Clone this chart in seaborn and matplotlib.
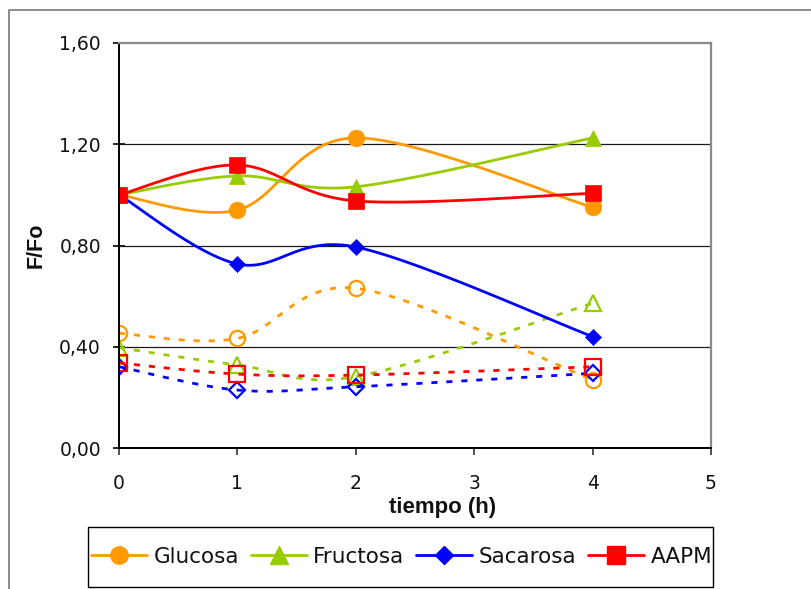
import numpy as np
import pandas as pd
import matplotlib
matplotlib.use("Agg")
import matplotlib.pyplot as plt
from matplotlib.lines import Line2D
from matplotlib.patches import Rectangle
from matplotlib.ticker import FuncFormatter
import seaborn as sns

# Sampling times (h)
tiempo = [0, 1, 2, 4]
series = ["Glucosa", "Fructosa", "Sacarosa", "AAPM"]
colores = ["#FF9900", "#99CC00", "#0000FF", "#FF0000"]
marcadores = ["o", "^", "D", "s"]

# F/Fo, solid series (filled markers)
glucosa = [1.00, 0.940, 1.225, 0.951]
fructosa = [1.00, 1.075, 1.032, 1.225]
sacarosa = [1.00, 0.727, 0.794, 0.440]
aapm = [1.00, 1.118, 0.976, 1.006]

# F/Fo, dotted series (open markers)
glucosa_b = [0.453, 0.433, 0.631, 0.269]
fructosa_b = [0.396, 0.328, 0.282, 0.572]
sacarosa_b = [0.321, 0.229, 0.242, 0.295]
aapm_b = [0.336, 0.292, 0.288, 0.321]

y_ticks = [0.0, 0.4, 0.8, 1.2, 1.6]
x_ticks = [0, 1, 2, 3, 4, 5]


def suavizar(x, y, n=40):
    """Cubic Bezier smoothing through the points (Catmull-Rom style)."""
    P = np.column_stack([x, y]).astype(float)
    ext = np.vstack([P[0], P, P[-1]])
    t = np.linspace(0, 1, n)[:, None]
    partes = []
    for i in range(len(P) - 1):
        p0, p1, p2, p3 = ext[i], ext[i + 1], ext[i + 2], ext[i + 3]
        c1 = p1 + (p2 - p0) / 6.0
        c2 = p2 - (p3 - p1) / 6.0
        seg = ((1 - t) ** 3) * p1 + 3 * ((1 - t) ** 2) * t * c1 \
            + 3 * (1 - t) * (t ** 2) * c2 + (t ** 3) * p2
        partes.append(seg if i == 0 else seg[1:])
    return np.vstack(partes)


sns.set_theme(style="white")
plt.rcParams["font.family"] = ["DejaVu Sans"]

fig = plt.figure(figsize=(8.11, 5.89), dpi=100)
fig.patch.set_facecolor("white")
ax = fig.add_axes([119 / 811, 1 - 448 / 589, 592 / 811, 405 / 589])
ax.set_facecolor("white")

# gridlines
for yv in y_ticks[1:-1]:
    ax.axhline(yv, color="#1a1a1a", lw=0.9, zorder=1)

solidas = [glucosa, fructosa, sacarosa, aapm]
punteadas = [glucosa_b, fructosa_b, sacarosa_b, aapm_b]

z = 3
for nombre, vals, col, mk in zip(series, punteadas, colores, marcadores):
    curva = suavizar(tiempo, vals)
    df = pd.DataFrame({"t": curva[:, 0], "v": curva[:, 1]})
    sns.lineplot(data=df, x="t", y="v", sort=False, estimator=None, ax=ax,
                 color=col, lw=2.0, dashes=False, zorder=z)
    ax.lines[-1].set_dashes((2.2, 3.2))
    ms = 8.2 if mk == "D" else 11
    ax.plot(tiempo, vals, linestyle="none", marker=mk, ms=ms,
            mfc="none", mec=col, mew=1.6, zorder=z + 1)
    z += 2

for nombre, vals, col, mk in zip(series, solidas, colores, marcadores):
    curva = suavizar(tiempo, vals)
    df = pd.DataFrame({"t": curva[:, 0], "v": curva[:, 1]})
    sns.lineplot(data=df, x="t", y="v", sort=False, estimator=None, ax=ax,
                 color=col, lw=2.0, zorder=z)
    ms = 8.6 if mk == "D" else 12
    ax.plot(tiempo, vals, linestyle="none", marker=mk, ms=ms,
            mfc=col, mec=col, mew=0.5, zorder=z + 1)
    z += 2

ax.set_xlim(0, 5)
ax.set_ylim(0, 1.6)
ax.set_xticks(x_ticks)
ax.set_yticks(y_ticks)
ax.yaxis.set_major_formatter(FuncFormatter(lambda v, p: f"{v:.2f}".replace(".", ",")))
ax.xaxis.set_major_formatter(FuncFormatter(lambda v, p: f"{int(v)}"))

ax.tick_params(axis="y", direction="inout", length=8, width=1.2, color="black",
               labelsize=13.5, pad=9, labelcolor="#111111", left=True)
ax.tick_params(axis="x", direction="out", length=5, width=1.2, color="#333333",
               labelsize=13.5, pad=14, labelcolor="#111111", bottom=True)

for lado in ["left", "bottom"]:
    ax.spines[lado].set_color("black")
    ax.spines[lado].set_linewidth(1.4)
for lado in ["top", "right"]:
    ax.spines[lado].set_color("#8a8a8a")
    ax.spines[lado].set_linewidth(1.6)
for s in ax.spines.values():
    s.set_zorder(20)

ax.set_xlabel("tiempo (h)", family=["Liberation Sans", "DejaVu Sans"],
              fontweight="bold", fontsize=16, color="#111111")
ax.set_ylabel("F/Fo", family=["Liberation Sans", "DejaVu Sans"],
              fontweight="bold", fontsize=15.5, color="#111111")
ax.xaxis.label.set_va("center")
ax.yaxis.label.set_va("center")
ax.xaxis.set_label_coords((443 - 119) / 592, (448 - 507) / 405)
ax.yaxis.set_label_coords((36.5 - 119) / 592, (448 - 245) / 405)

# outer chart border (left and top edges)
fig.add_artist(Line2D([9 / 811, 9 / 811, 1.0], [0.0, 1 - 10 / 589, 1 - 10 / 589],
                      transform=fig.transFigure, color="#8a8a8a", lw=1.4))

# legend box
fig.add_artist(Rectangle((88 / 811, 1 - 587 / 589), 625 / 811, 60 / 589,
                         transform=fig.transFigure, fill=False,
                         edgecolor="black", lw=1.0))
handles = [Line2D([], [], color=c, lw=2.0, marker=m,
                  ms=(9.0 if m == "D" else 12.5), mfc=c, mec=c)
           for c, m in zip(colores, marcadores)]
fig.legend(handles, series, loc="center",
           bbox_to_anchor=(401.5 / 811, 1 - 557 / 589), ncol=4, frameon=False,
           fontsize=15.5, handlelength=2.6, handletextpad=0.3,
           columnspacing=0.55, borderpad=0.2, labelcolor="#111111")

fig.savefig("out.png", dpi=100, facecolor="white")
